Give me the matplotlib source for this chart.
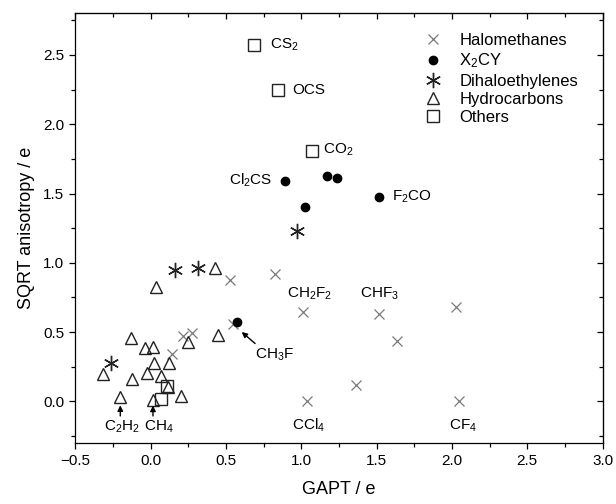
import matplotlib
matplotlib.use('Agg')
import matplotlib.pyplot as plt
from matplotlib.ticker import MultipleLocator

plt.rcParams['font.family'] = ['Liberation Sans', 'DejaVu Sans']
plt.rcParams['mathtext.default'] = 'regular'
plt.rcParams['axes.unicode_minus'] = True

# data (GAPT / e, SQRT anisotropy / e)
halo_x = [0.527, 0.825, 1.013, 0.549, 0.217, 0.272, 0.139, 1.040, 1.516, 1.635, 1.365, 2.029, 2.047]
halo_y = [0.877, 0.916, 0.647, 0.560, 0.469, 0.497, 0.344, 0.002, 0.634, 0.435, 0.120, 0.680, 0.000]

x2cy_x = [0.894, 1.025, 1.173, 1.235, 1.516, 0.575]
x2cy_y = [1.588, 1.401, 1.624, 1.613, 1.473, 0.572]

dihalo_x = [0.974, 0.161, 0.316, -0.266]
dihalo_y = [1.228, 0.949, 0.961, 0.276]

hydro_x = [0.427, 0.033, 0.449, 0.246, -0.133, -0.040, 0.015, 0.022, 0.124,
           -0.317, -0.122, -0.027, 0.066, 0.117, 0.199, -0.202, 0.015]
hydro_y = [0.964, 0.824, 0.481, 0.430, 0.456, 0.387, 0.392, 0.276, 0.276,
           0.195, 0.159, 0.207, 0.183, 0.101, 0.036, 0.031, 0.007]

other_x = [0.688, 0.847, 1.069, 0.108, 0.066]
other_y = [2.572, 2.247, 1.805, 0.110, 0.019]

# text labels: (text, x, y, horizontal alignment)
labels = [
    (r'CS$_2$', 0.792, 2.572, 'left'),
    ('OCS', 0.940, 2.247, 'left'),
    (r'CO$_2$', 1.142, 1.815, 'left'),
    (r'Cl$_2$CS', 0.810, 1.595, 'right'),
    (r'F$_2$CO', 1.600, 1.475, 'left'),
    (r'CH$_2$F$_2$', 0.903, 0.776, 'left'),
    (r'CHF$_3$', 1.390, 0.776, 'left'),
    (r'CCl$_4$', 0.936, -0.175, 'left'),
    (r'CF$_4$', 1.981, -0.175, 'left'),
]

# arrow labels: (text, text x, text y, arrow tail x, tail y, arrow tip x, tip y)
arrows = [
    (r'CH$_3$F', 0.693, 0.335, 0.693, 0.418, 0.604, 0.501),
    (r'C$_2$H$_2$', -0.308, -0.185, -0.202, -0.105, -0.202, -0.028),
    (r'CH$_4$', -0.042, -0.185, 0.015, -0.105, 0.015, -0.030),
]

fig = plt.figure(figsize=(6.16, 5.04), dpi=100)
ax = fig.add_axes([0.1224, 0.121, 0.8558, 0.8526])

ax.plot(halo_x, halo_y, 'x', color='#7a7a7a', ms=7, mew=0.9, ls='none', label='Halomethanes')
ax.plot(x2cy_x, x2cy_y, 'o', color='black', ms=6, ls='none', label=r'X$_2$CY')
ax.plot(dihalo_x, dihalo_y, marker=(6, 2, 0), color='#222222', ms=11, mew=1.0, ls='none',
        label='Dihaloethylenes')
ax.plot(hydro_x, hydro_y, '^', mfc='none', mec='#222222', ms=8, mew=1.0, ls='none',
        label='Hydrocarbons')
ax.plot(other_x, other_y, 's', mfc='none', mec='#222222', ms=9, mew=1.0, ls='none',
        label='Others')

for txt, tx, ty, ha in labels:
    ax.text(tx, ty, txt, ha=ha, va='center', fontsize=11)

for txt, tx, ty, ax0, ay0, ax1, ay1 in arrows:
    ax.annotate('', xy=(ax1, ay1), xytext=(ax0, ay0),
                arrowprops=dict(arrowstyle='-|>', color='black', lw=1.0, mutation_scale=8,
                                shrinkA=0, shrinkB=0))
    ax.text(tx, ty, txt, ha='left', va='center', fontsize=11)

ax.set_xlim(-0.5, 3.0)
ax.set_ylim(-0.3, 2.8)
ax.xaxis.set_major_locator(MultipleLocator(0.5))
ax.xaxis.set_minor_locator(MultipleLocator(0.25))
ax.yaxis.set_major_locator(MultipleLocator(0.5))
ax.yaxis.set_minor_locator(MultipleLocator(0.25))
ax.tick_params(which='major', direction='out', length=4, width=0.9, labelsize=11, pad=4)
ax.tick_params(which='minor', direction='out', length=3, width=0.9)
for s in ax.spines.values():
    s.set_linewidth(0.9)

# mirrored ticks pointing inward on top and right
top = ax.secondary_xaxis('top')
top.xaxis.set_major_locator(MultipleLocator(0.5))
top.xaxis.set_minor_locator(MultipleLocator(0.25))
top.tick_params(which='both', direction='in', labeltop=False, width=0.9)
top.tick_params(which='major', length=4)
top.tick_params(which='minor', length=3)
right = ax.secondary_yaxis('right')
right.yaxis.set_major_locator(MultipleLocator(0.5))
right.yaxis.set_minor_locator(MultipleLocator(0.25))
right.tick_params(which='both', direction='in', labelright=False, width=0.9)
right.tick_params(which='major', length=4)
right.tick_params(which='minor', length=3)

ax.set_xlabel('GAPT / e', fontsize=13, labelpad=9)
ax.set_ylabel('SQRT anisotropy / e', fontsize=13, labelpad=6)

ax.legend(loc='upper left', bbox_to_anchor=(0.646, 0.969), frameon=False, fontsize=12,
          handletextpad=1.0, labelspacing=0.2, borderaxespad=0, handlelength=1.2)

fig.savefig('out.png', dpi=100)
